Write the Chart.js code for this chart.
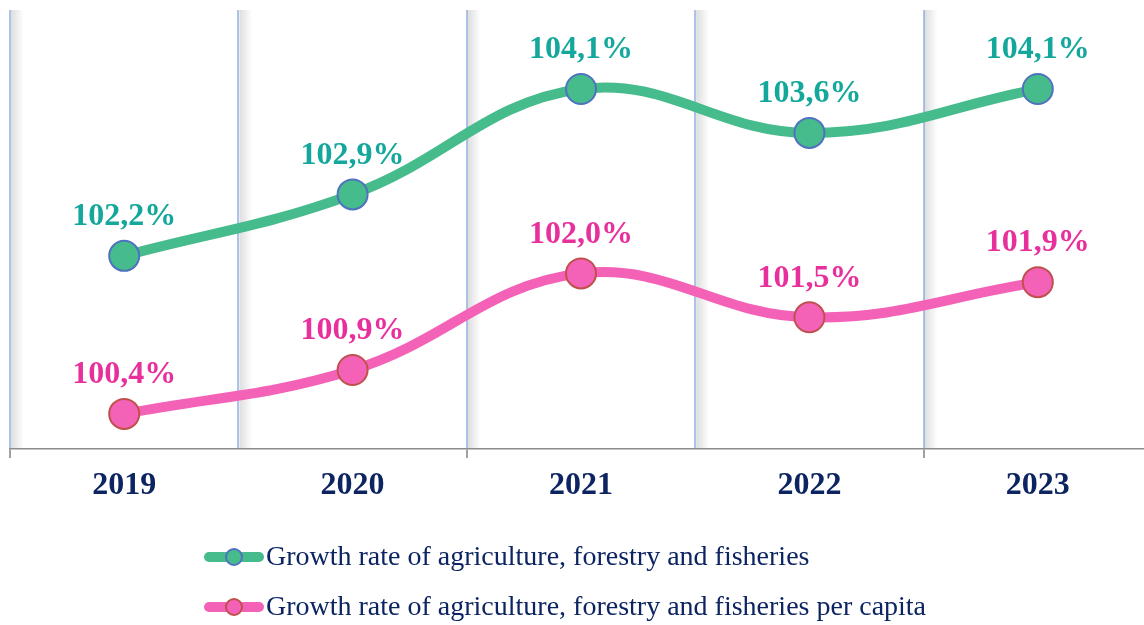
<!DOCTYPE html>
<html>
<head>
<meta charset="utf-8">
<script src="https://cdn.jsdelivr.net/npm/chart.js@4"></script>
<style>
  html, body { margin: 0; padding: 0; background: #fff; overflow: hidden; }
  #wrap { width: 1160px; height: 625px; position: relative; }
</style>
</head>
<body>
<div id="wrap"><canvas id="chart" width="1160" height="625"></canvas></div>
<script>
// Données
const years = ['2019', '2020', '2021', '2022', '2023'];
const growthTotal = [102.2, 102.9, 104.1, 103.6, 104.1];
const growthPerCapita = [100.4, 100.9, 102.0, 101.5, 101.9];
const seriesNames = [
    'Growth rate of agriculture, forestry and fisheries',
    'Growth rate of agriculture, forestry and fisheries per capita'
];
const labelColors = ['#14a79b', '#e8309c'];

const navy = '#0c2461';
const serif = '"Liberation Serif", "Times New Roman", serif';

// ombre grise à droite des lignes verticales
const gridShadow = {
    id: 'gridShadow',
    beforeDatasetsDraw(chart) {
        const { ctx, chartArea } = chart;
        const n = years.length;
        const step = chartArea.width / n;
        ctx.save();
        for (let i = 0; i < n; i++) {
            const x = chartArea.left + i * step + 1;
            const g = ctx.createLinearGradient(x, 0, x + 13, 0);
            g.addColorStop(0, 'rgba(0,0,0,0.13)');
            g.addColorStop(1, 'rgba(0,0,0,0)');
            ctx.fillStyle = g;
            ctx.fillRect(x, chartArea.top, 13, chartArea.bottom - chartArea.top - 1);
        }
        ctx.restore();
    }
};

// étiquettes de valeurs au-dessus des points
const valueLabels = {
    id: 'valueLabels',
    afterDatasetsDraw(chart) {
        const ctx = chart.ctx;
        ctx.save();
        ctx.font = 'bold 32px ' + serif;
        ctx.textAlign = 'center';
        ctx.textBaseline = 'middle';
        chart.data.datasets.forEach((ds, di) => {
            ctx.fillStyle = labelColors[di];
            chart.getDatasetMeta(di).data.forEach((pt, i) => {
                const txt = ds.data[i].toFixed(1).replace('.', ',') + '%';
                ctx.fillText(txt, pt.x, pt.y - 39);
            });
        });
        ctx.restore();
    }
};

// légende empilée, alignée à gauche
const stackedLegend = {
    id: 'stackedLegend',
    afterDraw(chart) {
        const ctx = chart.ctx;
        const rows = [557, 607];
        ctx.save();
        chart.data.datasets.forEach((ds, di) => {
            const y = rows[di];
            ctx.strokeStyle = ds.borderColor;
            ctx.lineWidth = 10;
            ctx.lineCap = 'round';
            ctx.beginPath();
            ctx.moveTo(209, y);
            ctx.lineTo(259, y);
            ctx.stroke();
            ctx.beginPath();
            ctx.arc(234, y, 8, 0, Math.PI * 2);
            ctx.fillStyle = ds.pointBackgroundColor;
            ctx.fill();
            ctx.lineWidth = 2;
            ctx.strokeStyle = ds.pointBorderColor;
            ctx.stroke();
            ctx.fillStyle = navy;
            ctx.font = '28px ' + serif;
            ctx.textAlign = 'left';
            ctx.textBaseline = 'middle';
            ctx.fillText(ds.label, 266, y + 1);
        });
        ctx.restore();
    }
};

const chart = new Chart(document.getElementById('chart'), {
    type: 'line',
    data: {
        labels: years,
        datasets: [
            {
                label: seriesNames[0],
                data: growthTotal,
                borderColor: '#46bb8c',
                borderWidth: 10,
                tension: 0.4,
                pointRadius: 15,
                pointBackgroundColor: '#46bb8c',
                pointBorderColor: '#4f72bf',
                pointBorderWidth: 2
            },
            {
                label: seriesNames[1],
                data: growthPerCapita,
                borderColor: '#f462b7',
                borderWidth: 10,
                tension: 0.4,
                pointRadius: 15,
                pointBackgroundColor: '#f462b7',
                pointBorderColor: '#c0504d',
                pointBorderWidth: 2
            }
        ]
    },
    options: {
        responsive: false,
        animation: false,
        devicePixelRatio: 1,
        layout: { autoPadding: false, padding: { left: 10, right: 8, top: 10, bottom: 0 } },
        plugins: {
            legend: { display: false },
            tooltip: { enabled: false }
        },
        scales: {
            x: {
                offset: true,
                afterFit: (s) => { s.height = 176; },
                grid: {
                    offset: true,
                    color: '#adc3ea',
                    lineWidth: 2,
                    drawTicks: true,
                    tickLength: 9,
                    tickWidth: 1.5,
                    tickColor: (c) => (c.index % 2 === 0 ? '#808080' : 'rgba(0,0,0,0)')
                },
                border: { color: '#8c8c8c', width: 1.5 },
                ticks: {
                    color: navy,
                    padding: 9,
                    font: { family: serif, size: 32, weight: 'bold' }
                }
            },
            y: {
                display: false,
                min: 100,
                max: 105
            }
        }
    },
    plugins: [gridShadow, valueLabels, stackedLegend]
});
</script>
</body>
</html>
